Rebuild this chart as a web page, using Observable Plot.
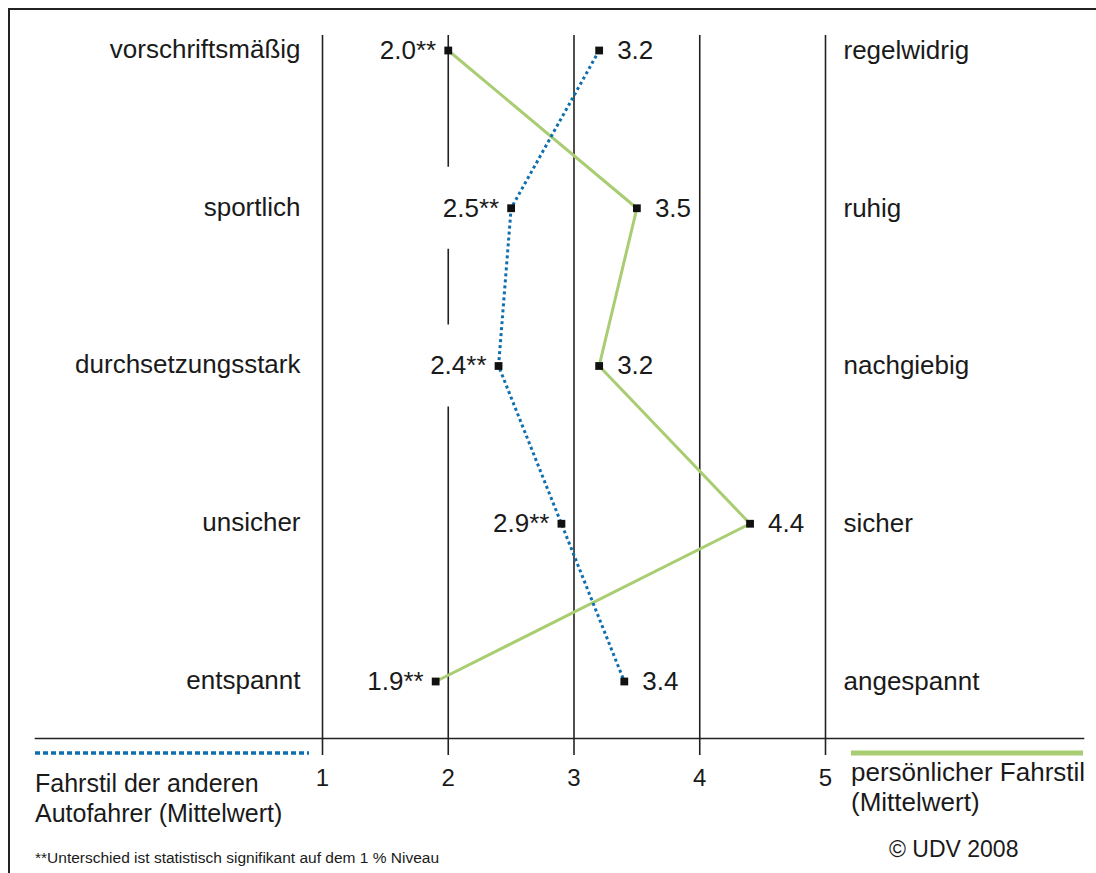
<!DOCTYPE html>
<html><head><meta charset="utf-8">
<script src="https://cdn.jsdelivr.net/npm/d3@7"></script>
<script src="https://cdn.jsdelivr.net/npm/@observablehq/plot@0.6"></script>
<style>
body{margin:0;background:#fff;font-family:"Liberation Sans",Arial,sans-serif;}
#wrap{position:relative;width:1096px;height:873px;overflow:hidden;background:#fff;}
#wrap svg{position:absolute;left:0;top:0;}
#border{position:absolute;left:8px;top:8px;right:-10px;bottom:-10px;border-left:2.5px solid #222;border-top:2.5px solid #222;pointer-events:none;}
.t{position:absolute;color:#1a1a1a;white-space:nowrap;}
.sw{position:absolute;}
</style></head><body><div id="wrap"></div>
<script>
// ---- data ----
const leftLabels = ["vorschriftsmäßig", "sportlich", "durchsetzungsstark", "unsicher", "entspannt"];
const rightLabels = ["regelwidrig", "ruhig", "nachgiebig", "sicher", "angespannt"];
const othersValues = [3.2, 2.5, 2.4, 2.9, 3.4];      // Fahrstil der anderen Autofahrer
const personalValues = [2.0, 3.5, 3.2, 4.4, 1.9];    // persönlicher Fahrstil
const othersLabels = ["3.2", "2.5**", "2.4**", "2.9**", "3.4"];
const personalLabels = ["2.0**", "3.5", "3.2", "4.4", "1.9**"];
const xTicks = [1, 2, 3, 4, 5];
const maskRows = [1, 2]; // rows where a label box interrupts the line at 2

const rows = leftLabels.map((l, i) => ({
  i, left: l, right: rightLabels[i], others: othersValues[i], personal: personalValues[i]
}));
const points = [];
rows.forEach(r => {
  points.push({i: r.i, v: r.others, label: othersLabels[r.i], side: r.others < r.personal ? "left" : "right"});
  points.push({i: r.i, v: r.personal, label: personalLabels[r.i], side: r.personal < r.others ? "left" : "right"});
});

const ink = "#1a1a1a";
const blue = "#0f6fae", green = "#a9cd72";
const chart = Plot.plot({
  width: 1096, height: 873,
  marginLeft: 322, marginRight: 271, marginTop: 35, marginBottom: 135,
  style: {fontFamily: "Liberation Sans, Arial, sans-serif", background: "transparent", color: ink, overflow: "visible"},
  x: {domain: [1, 5], axis: null},
  y: {domain: [0, 4], range: [50, 681], axis: null},
  marks: [
    Plot.ruleX(xTicks, {stroke: "#222", strokeWidth: 1.6, insetBottom: -17}),
    Plot.rect(maskRows, {x1: 1.96, x2: 2.04, y1: d => d - 0.26, y2: d => d + 0.26, fill: "white"}),
    Plot.frame({anchor: "bottom", insetLeft: -287, insetRight: -258, stroke: "#222", strokeWidth: 1.6}),
    Plot.axisX(xTicks, {anchor: "bottom", tickSize: 0, tickPadding: 30, fontSize: 24, tickFormat: d => String(d)}),
    Plot.line(rows, {x: "personal", y: "i", stroke: green, strokeWidth: 3}),
    Plot.line(rows, {x: "others", y: "i", stroke: blue, strokeWidth: 3, strokeDasharray: "3 3", strokeLinecap: "butt"}),
    Plot.dot(points, {x: "v", y: "i", symbol: "square", r: 4.4, fill: "#111"}),
    Plot.text(points.filter(d => d.side === "left"), {x: "v", y: "i", text: "label", textAnchor: "end", dx: -12, fontSize: 26, fill: ink}),
    Plot.text(points.filter(d => d.side === "right"), {x: "v", y: "i", text: "label", textAnchor: "start", dx: 18, fontSize: 26, fill: ink}),
    Plot.text(rows, {y: "i", text: "left", frameAnchor: "left", dx: -22, dy: -1, textAnchor: "end", fontSize: 26, fill: ink}),
    Plot.text(rows, {y: "i", text: "right", frameAnchor: "right", dx: 18, textAnchor: "start", fontSize: 26, fill: ink})
  ]
});
const wrap = document.getElementById("wrap");
wrap.appendChild(chart);
// make sure the dotted pattern is applied to the line path
chart.querySelectorAll("path").forEach(p => {
  if ((p.getAttribute("stroke") || "").toLowerCase() === blue ||
      (p.parentNode && (p.parentNode.getAttribute("stroke") || "").toLowerCase() === blue)) {
    p.setAttribute("stroke-dasharray", "3 3");
  }
});

// ---- legend, footnote, copyright ----
const ns = "http://www.w3.org/2000/svg";
function swatch(left, top, w, stroke, sw, dash) {
  const s = document.createElementNS(ns, "svg");
  s.setAttribute("class", "sw");
  s.setAttribute("width", w); s.setAttribute("height", 10);
  s.style.left = left + "px"; s.style.top = (top - 5) + "px";
  const l = document.createElementNS(ns, "line");
  l.setAttribute("x1", 0); l.setAttribute("x2", w); l.setAttribute("y1", 5); l.setAttribute("y2", 5);
  l.setAttribute("stroke", stroke); l.setAttribute("stroke-width", sw);
  if (dash) l.setAttribute("stroke-dasharray", dash);
  s.appendChild(l);
  wrap.appendChild(s);
}
function text(str, left, top, size, lh) {
  const d = document.createElement("div");
  d.className = "t";
  d.style.left = left + "px"; d.style.top = top + "px";
  d.style.fontSize = size + "px"; d.style.lineHeight = lh + "px";
  d.innerHTML = str;
  wrap.appendChild(d);
}
swatch(35, 753, 274, blue, 3.5, "5,3");
swatch(851, 753, 232, green, 5, null);
text("Fahrstil der anderen<br>Autofahrer (Mittelwert)", 35, 768, 25, 30);
text("persönlicher Fahrstil<br>(Mittelwert)", 851, 757, 26, 30);
text("© UDV 2008", 889, 838, 23, 23);
text("**Unterschied ist statistisch signifikant auf dem 1 % Niveau", 35, 850, 15.5, 15.5);
const b = document.createElement("div"); b.id = "border"; wrap.appendChild(b);
</script>
</body></html>
